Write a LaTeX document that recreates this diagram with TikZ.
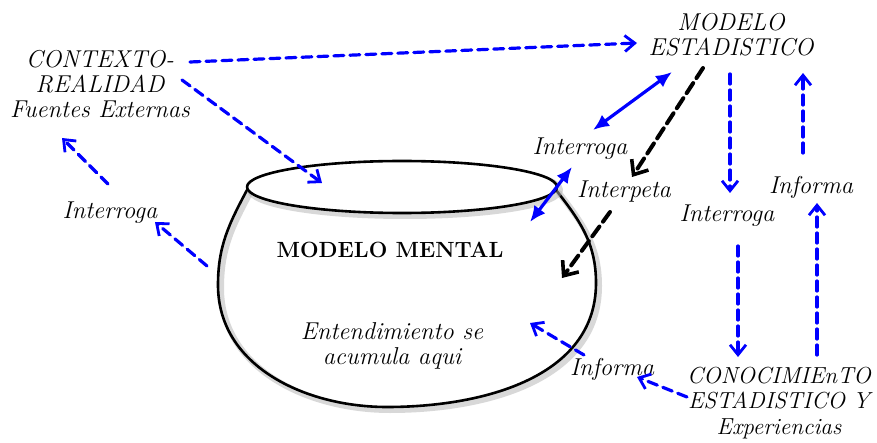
\documentclass[tikz,border=0pt]{standalone}
\usetikzlibrary{arrows.meta}
\tikzset{
  txt/.style={font=\fontsize{12.2}{12.6}\selectfont\itshape,align=center,inner sep=1pt},
  flecha/.style={blue,line width=1.6pt,dash pattern=on 5pt off 3pt,-{Straight Barb[length=5pt,width=8pt,line width=1.4pt]}},
  doble/.style={blue,line width=1.6pt,{Latex[length=8pt,width=7pt]}-{Latex[length=8pt,width=7pt]}},
  negra/.style={black,line width=2pt,dash pattern=on 6pt off 3pt,-{Straight Barb[length=6pt,width=10pt,line width=1.8pt]}},
  sombra/.style={preaction={draw=black!30,line width=3pt,opacity=.5,transform canvas={shift={(1.5pt,-1.5pt)}}}}
}
\begin{document}
\begin{tikzpicture}[x=.5pt,y=-.5pt,line join=round,line cap=round]
	\useasboundingbox (0,0) rectangle (877,443);
	% textos
	\node[txt] (ctx) at (100,84) {CONTEXTO-\\REALIDAD\\Fuentes Externas};
	\node[txt] (mest) at (731,35) {MODELO\\ESTADISTICO};
	\node[txt] (int1) at (110,213) {Interroga};
	\node[txt] (int2) at (580,149) {Interroga};
	\node[txt] (intp) at (624,192) {Interpeta};
	\node[txt] (int3) at (727,216) {Interroga};
	\node[txt] (inf1) at (811,187) {Informa};
	\node[txt] (inf2) at (612,369) {Informa};
	\node[txt,font=\fontsize{11.6}{12.6}\selectfont\itshape] (cono) at (779,403) {CONOCIMIEnTO\\ESTADISTICO Y\\Experiencias};
	\node[font=\fontsize{11}{13}\selectfont\bfseries] (mm) at (390,250) {MODELO MENTAL};
	\node[txt] (ent) at (392,346) {Entendimiento se\\acumula aqui};
	% vasija
	\draw[sombra,line width=1.3pt] (247,190) to[out=-118,in=90] (218,285) to[out=-90,in=180] (387,407)
		to[out=0,in=-90] (596,283) to[out=90,in=-52] (556,190);
	\draw[sombra,line width=1.3pt,fill=white] (402,187) ellipse (155 and 26);
	% extremos
	\coordinate (a1) at (190,62);
	\coordinate (a2) at (637,43);
	\coordinate (b1) at (182,80);
	\coordinate (b2) at (322,183);
	\coordinate (c1) at (108,184);
	\coordinate (c2) at (62,138);
	\coordinate (d1) at (207,266);
	\coordinate (d2) at (155,222);
	\coordinate (e1) at (672,72);
	\coordinate (e2) at (593,130);
	\coordinate (f1) at (572,167);
	\coordinate (f2) at (530,222);
	\coordinate (g1) at (703,68);
	\coordinate (g2) at (632,177);
	\coordinate (h1) at (610,212);
	\coordinate (h2) at (562,278);
	\coordinate (i1) at (730,74);
	\coordinate (i2) at (730,193);
	\coordinate (j1) at (803,153);
	\coordinate (j2) at (803,73);
	\coordinate (k1) at (738,246);
	\coordinate (k2) at (738,357);
	\coordinate (l1) at (817,355);
	\coordinate (l2) at (817,203);
	\coordinate (m1) at (687,397);
	\coordinate (m2) at (637,377);
	\coordinate (n1) at (584,355);
	\coordinate (n2) at (530,323);
	% flechas
	\draw[flecha] (a1) -- (a2);
	\draw[flecha] (b1) -- (b2);
	\draw[flecha] (c1) -- (c2);
	\draw[flecha] (d1) -- (d2);
	\draw[doble] (e1) -- (e2);
	\draw[doble] (f1) -- (f2);
	\draw[negra] (g1) -- (g2);
	\draw[negra] (h1) -- (h2);
	\draw[flecha] (i1) -- (i2);
	\draw[flecha] (j1) -- (j2);
	\draw[flecha] (k1) -- (k2);
	\draw[flecha] (l1) -- (l2);
	\draw[flecha] (m1) -- (m2);
	\draw[flecha] (n1) -- (n2);
\end{tikzpicture}
\end{document}
